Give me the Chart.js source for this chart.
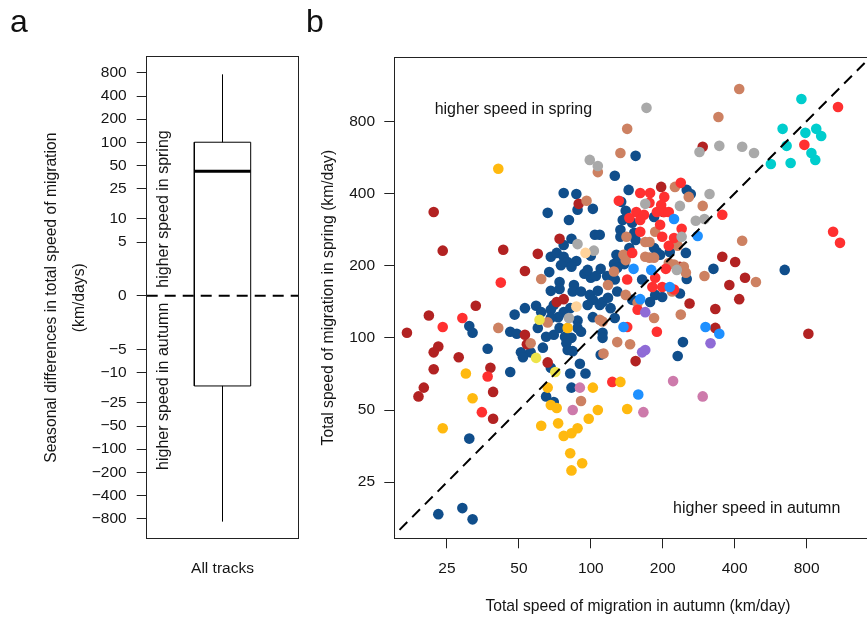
<!DOCTYPE html>
<html>
<head>
<meta charset="utf-8">
<script src="https://cdn.jsdelivr.net/npm/chart.js@4.4.0/dist/chart.umd.min.js"></script>
<style>
  html, body { margin: 0; padding: 0; background: #fff; overflow: hidden; }
  #wrap { position: relative; width: 867px; height: 617px; overflow: hidden; }
  #chartA { position: absolute; left: 0; top: 0; }
  #chartB { position: absolute; left: 305px; top: 0; }
  .tag { position: absolute; font-family: "Liberation Sans", Arial, sans-serif; font-size: 32px; line-height: 32px; color: #111; }
</style>
</head>
<body>
<div id="wrap">
  <canvas id="chartA" width="305" height="617"></canvas>
  <canvas id="chartB" width="582" height="617"></canvas>
  <div class="tag" style="left:10px; top:5px;">a</div>
  <div class="tag" style="left:306px; top:5px;">b</div>
</div>
<script>
// ---- panel a: seasonal difference (spring - autumn), km/day
const diffTicks = [-800, -400, -200, -100, -50, -25, -10, -5, 0, 5, 10, 25, 50, 100, 200, 400, 800];
const diffTickLabels = ['\u2212800', '\u2212400', '\u2212200', '\u2212100', '\u221250', '\u221225', '\u221210', '\u22125',
  '0', '5', '10', '25', '50', '100', '200', '400', '800'];
const boxCategory = ['All tracks'];
// min, lower quartile, median, upper quartile, max
const boxStats = [-870, -15, 42, 100, 767];

// ---- panel b: total speed of migration, [autumn, spring] in km/day
const speedTicks = [25, 50, 100, 200, 400, 800];
const speedTickLabels = ['25', '50', '100', '200', '400', '800'];

const navyPts = [
  [154,574],
  [77,402],[87,398],[88,342],[102,345],[66,332],[81,310],[134,369],[144,414],[126,474],[140,339],
  [136,310],[149,302],[133,282],[152,274],[133,264],[154,256],[83,259],[77,244],[104,269],[109,269],
  [68,218],[72,226],[77,218],[80,207],[87,209],[75,201],[83,198],[67,188],[74,171],[100,220],
  [128,222],[129,207],[138,203],[125,203],[145,237],[94,185],[100,178],[105,181],[110,194],[117,181],
  [97,192],[129,196],[164,175],[126,175],[85,166],
  [68,157],[74,160],[84,156],[91,156],[99,151],[107,157],[102,144],[129,156],[149,144],[70,137],
  [53,133],[59,136],[62,128],[68,131],[82,133],[77,128],[73,122],[68,121],[60,110],[88,118],
  [74,110],[88,110],[91,106],[70,103],[65,101],[78,101],[83,100],[79,95],[63,91],[80,89],
  [84,88],[109,137],[112,141],[121,133],[97,137],[118,147],[102,122],[126,121],[112,105],[112,100],
  [110,85],[51,87],[56,87],[52,83],[68,75],[90,78],[82,71],[95,71],
  [252,414],[262,398],[184,319],[214,228],[250,226],[189,228],[184,237],[195,222],[252,176],[236,153],
  [186,151],[199,148],[177,141],[243,96],[231,84],[326,194],
  [648,192],
  [31,112],[32,105],[48,125],[46,106],[49,104],[37,90],[46,72],[31,38],[23,18.4],[29,19.5],
  [32,17.5],[65,57],[83,62],[70,54]
];
const darkredPts = [
  [89,362],[74,259],[60,224],[53,190],[22,335],[24,231],[43,233],[72,141],[77,145],[53,103],
  [54,94],[66,79],[154,80],[197,426],[201,335],[236,198],[259,139],[332,132],[332,110],[355,218],
  [402,207],[380,166],[418,145],[442,178],[294,626],[33,136],[21,124],[17,105],[23,92],[22,87],
  [28,83],[22,74],[38,75],[20,62],[19,57],[39,59.5],[39,46],[814,104]
];
const redPts = [
  [42,170],[161,402],[131,373],[155,335],[167,326],[145,316],[161,310],[161,277],[149,226],[142,175],
  [157,131],[142,111],[123,65.5],[177,402],[203,387],[197,358],[176,366],[189,335],[203,335],[212,335],
  [355,326],[195,296],[240,285],[223,261],[199,264],[212,242],[206,194],[186,178],[199,163],[181,163],
  [223,159],[189,106],[238,443],[1083,918],[783,638],[1033,277],[1104,249],[29,121],[24,111],[37,69],
  [35,49]
];
const tanPts = [
  [142,744],[133,590],[107,491],[96,373],[141,264],[169,251],[137,222],[140,211],[169,218],[125,189],
  [62,176],[118,166],[140,151],[157,140],[66,116],[109,119],[112,117],[129,96],[146,94],[113,86],
  [56,95],[225,426],[257,387],[294,355],[186,277],[231,242],[176,251],[176,216],[184,216],[212,205],
  [223,202],[245,198],[250,187],[219,156],[238,125],[184,121],[299,181],[430,254],[418,1091],[342,834],
  [491,171],[41,110],[91,54.5]
];
const grayPts = [
  [99,552],[107,521],[169,362],[88,246],[103,231],[81,121],[314,398],[236,355],[275,308],[299,313],
  [240,264],[229,192],[171,910],[285,596],[345,632],[430,626],[482,590]
];
const cyanPts = [
  [761,991],[635,744],[791,716],[878,744],[921,695],[660,632],[838,590],[870,552],[567,531],[686,536]
];
const goldPts = [
  [41,507],[80,110],[133,65.5],[30,71],[32,56],[24,42],[66,62],[102,62],[68,52.5],[72,51],
  [107,50],[98,46],[62,43],[73,44],[77,39],[83,40],[88,42],[82,33],[92,30],[83,28],[142,50.5]
];
const bluePts = [
  [151,194],[161,145],[137,111],[223,313],[280,266],[179,192],[214,163],[302,111],[345,104],[158,58]
];
const orchidPts = [[90,62],[84,50],[221,66],[294,57],[166,49]];
const purplePts = [[169,128],[164,87],[169,89],[317,95]];
const yellowPts = [[61,119],[59,82.5],[71,72]];
const peachPts = [[95,226],[87,135]];

// ---- styling
const FONT = '"Liberation Sans", Arial, Helvetica, sans-serif';
const INK = '#151515';
const tickFont = { family: FONT, size: 15.5 };
const titleFont = { family: FONT, size: 15.7 };

// signed log2 axis used by panel a (0 in the middle, |v| on log scale)
const slog = v => v === 0 ? 0 : Math.sign(v) * Math.log2(Math.max(Math.abs(v), 1));
class SignedLogScale extends Chart.LinearScale {
  getPixelForValue(value) {
    const a = slog(this.min), b = slog(this.max);
    return this.getPixelForDecimal((slog(value) - a) / (b - a));
  }
  getValueForPixel(pixel) {
    const a = slog(this.min), b = slog(this.max);
    const t = a + this.getDecimalForPixel(pixel) * (b - a);
    return Math.sign(t) * Math.pow(2, Math.abs(t));
  }
}
SignedLogScale.id = 'signedlog';
Chart.register(SignedLogScale);

// box frame round the plot region
const framePlugin = {
  id: 'frame',
  afterDraw(chart) {
    const { ctx, chartArea: { left, top, right, bottom } } = chart;
    const l = Math.floor(left) + 0.5, t = Math.floor(top) + 0.5;
    const r = Math.floor(right) + 0.5, b = Math.floor(bottom) + 0.5;
    ctx.save();
    ctx.strokeStyle = '#222';
    ctx.lineWidth = 1;
    ctx.strokeRect(l, t, r - l, b - t);
    ctx.restore();
  }
};

// rotated notes next to the zero line in panel a
const notesA = {
  id: 'notesA',
  afterDatasetsDraw(chart) {
    const { ctx, scales: { x, y } } = chart;
    const px = x.getPixelForValue(0.277);
    const y0 = y.getPixelForValue(0);
    ctx.save();
    ctx.font = '16px ' + FONT;
    ctx.fillStyle = INK;
    ctx.translate(px, y0);
    ctx.rotate(-Math.PI / 2);
    ctx.textBaseline = 'alphabetic';
    ctx.textAlign = 'left';
    ctx.fillText('higher speed in spring', 8, 0);
    ctx.textAlign = 'right';
    ctx.fillText('higher speed in autumn', -7, 0);
    ctx.restore();
  }
};

// notes in panel b, anchored in data units
const notesBPos = [
  { text: 'higher speed in spring', x: 22.2, y: 856 },
  { text: 'higher speed in autumn', x: 221, y: 18.6 }
];
const notesB = {
  id: 'notesB',
  afterDatasetsDraw(chart) {
    const { ctx, scales: { x, y } } = chart;
    ctx.save();
    ctx.font = '16px ' + FONT;
    ctx.fillStyle = INK;
    ctx.textAlign = 'left';
    ctx.textBaseline = 'alphabetic';
    notesBPos.forEach(n => ctx.fillText(n.text, x.getPixelForValue(n.x), y.getPixelForValue(n.y)));
    ctx.restore();
  }
};

// ---- chart a
const [bMin, bQ1, bMed, bQ3, bMax] = boxStats;
const bx = 1, hw = 0.372;
const lineSet = (data, width, dash) => ({
  data, borderColor: '#000', borderWidth: width, borderDash: dash || [],
  pointRadius: 0, fill: false, tension: 0
});

new Chart(document.getElementById('chartA'), {
  type: 'line',
  data: {
    datasets: [
      lineSet([{ x: 0, y: 0 }, { x: 2, y: 0 }], 2, [11, 7]),
      lineSet([{ x: bx - hw, y: bQ1 }, { x: bx + hw, y: bQ1 }, { x: bx + hw, y: bQ3 },
               { x: bx - hw, y: bQ3 }, { x: bx - hw, y: bQ1 }], 1),
      lineSet([{ x: bx - hw, y: bMed }, { x: bx + hw, y: bMed }], 3),
      lineSet([{ x: bx, y: bQ3 }, { x: bx, y: bMax }], 1),
      lineSet([{ x: bx, y: bQ1 }, { x: bx, y: bMin }], 1)
    ]
  },
  options: {
    responsive: false,
    animation: false,
    events: [],
    layout: { padding: { top: 56.7, right: 6.7, left: 0, bottom: 0 } },
    plugins: { legend: { display: false }, tooltip: { enabled: false } },
    scales: {
      x: {
        type: 'linear', min: 0, max: 2, bounds: 'data',
        afterBuildTicks: s => { s.ticks = boxCategory.map((c, i) => ({ value: bx + i })); },
        afterFit: s => { s.height = 78.3; },
        ticks: { callback: (v, i) => boxCategory[i], font: tickFont, color: INK, padding: 20.3, autoSkip: false, maxRotation: 0 },
        grid: { display: true, drawOnChartArea: false, drawTicks: false, color: '#222' },
        border: { display: false }
      },
      y: {
        type: 'signedlog', min: -1467, max: 1302, bounds: 'data',
        afterBuildTicks: s => { s.ticks = diffTicks.map(v => ({ value: v })); },
        afterFit: s => { s.width = 146.7; },
        ticks: { callback: (v, i) => diffTickLabels[i], font: tickFont, color: INK, padding: 10, autoSkip: false },
        grid: { drawOnChartArea: false, drawTicks: true, tickLength: 10, color: '#222', tickColor: '#222', lineWidth: 1 },
        border: { display: false },
        title: {
          display: true,
          text: ['Seasonal differences in total speed of migration', '(km/days)'],
          font: { family: FONT, size: 15.7, lineHeight: 1.8 },
          color: INK,
          padding: { top: 37.5, bottom: 0 }
        }
      }
    }
  },
  plugins: [framePlugin, notesA]
});

// ---- chart b
const toXY = pts => pts.map(p => ({ x: p[0], y: p[1] }));
const groups = [
  { pts: cyanPts, color: '#00CDCD' },
  { pts: peachPts, color: '#FFD39B' },
  { pts: yellowPts, color: '#EEE44A' },
  { pts: purplePts, color: '#8F6BD6' },
  { pts: orchidPts, color: '#CD7AAB' },
  { pts: bluePts, color: '#1E90FF' },
  { pts: grayPts, color: '#A9A9A9' },
  { pts: goldPts, color: '#FFB90F' },
  { pts: redPts, color: '#FF3030' },
  { pts: tanPts, color: '#CD8162' },
  { pts: darkredPts, color: '#B22222' },
  { pts: navyPts, color: '#104E8B' }
];
const identity = [{ x: 14, y: 14 }, { x: 1700, y: 1700 }];

new Chart(document.getElementById('chartB'), {
  type: 'scatter',
  data: {
    datasets: [
      { data: identity, showLine: true, borderColor: '#000', borderWidth: 2, borderDash: [11, 7], pointRadius: 0 }
    ].concat(groups.map(g => ({
      data: toXY(g.pts),
      backgroundColor: g.color,
      borderColor: g.color,
      borderWidth: 0,
      pointBorderWidth: 0,
      pointRadius: 5.3,
      pointStyle: 'circle'
    })))
  },
  options: {
    responsive: false,
    animation: false,
    events: [],
    layout: { padding: { top: 57, right: 0, left: 0, bottom: 0 } },
    plugins: { legend: { display: false }, tooltip: { enabled: false } },
    scales: {
      x: {
        type: 'logarithmic', min: 15.05, max: 1650, bounds: 'data',
        afterBuildTicks: s => { s.ticks = speedTicks.map(v => ({ value: v })); },
        afterFit: s => { s.height = 78.7; },
        ticks: { callback: (v, i) => speedTickLabels[i], font: tickFont, color: INK, padding: 11.4, autoSkip: false, maxRotation: 0 },
        grid: { drawOnChartArea: false, drawTicks: true, tickLength: 10, color: '#222', tickColor: '#222', lineWidth: 1 },
        border: { display: false },
        title: {
          display: true, text: 'Total speed of migration in autumn (km/day)',
          font: titleFont, color: INK, padding: { top: 0, bottom: 1 }
        }
      },
      y: {
        type: 'logarithmic', min: 14.59, max: 1483, bounds: 'data',
        afterBuildTicks: s => { s.ticks = speedTicks.map(v => ({ value: v })); },
        afterFit: s => { s.width = 89.3; },
        ticks: { callback: (v, i) => speedTickLabels[i], font: tickFont, color: INK, padding: 9.3, autoSkip: false },
        grid: { drawOnChartArea: false, drawTicks: true, tickLength: 10, color: '#222', tickColor: '#222', lineWidth: 1 },
        border: { display: false },
        title: {
          display: true, text: 'Total speed of migration in spring (km/day)',
          font: titleFont, color: INK, padding: { top: 13.9, bottom: 0 }
        }
      }
    }
  },
  plugins: [framePlugin, notesB]
});
</script>
</body>
</html>
